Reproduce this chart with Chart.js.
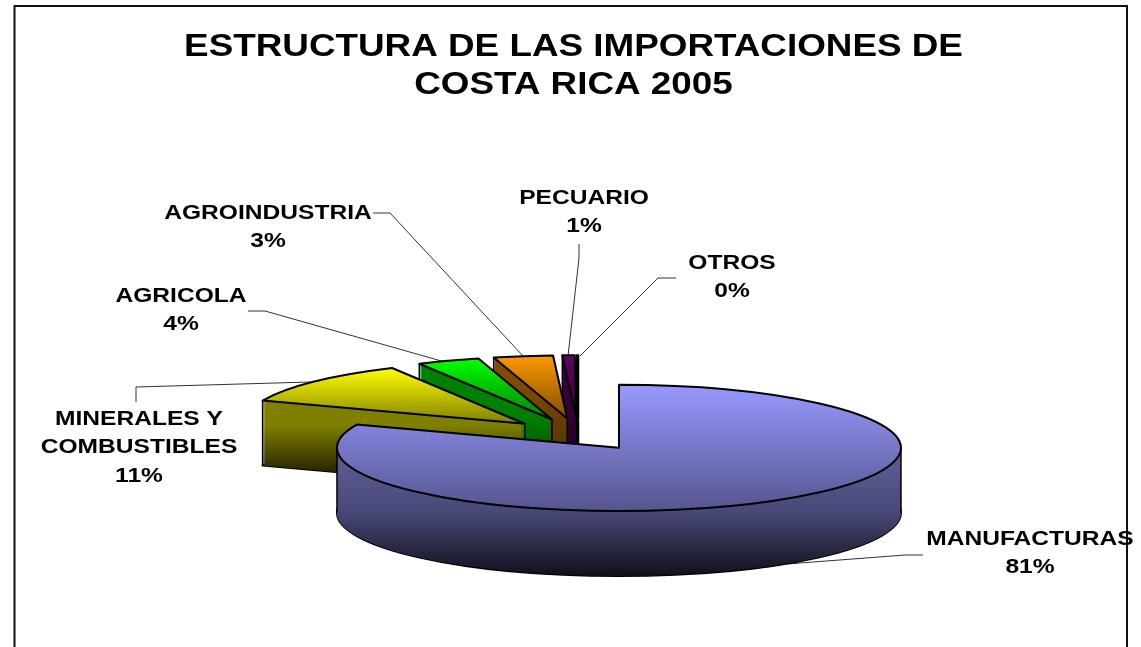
<!DOCTYPE html>
<html><head><meta charset="utf-8">
<style>html,body{margin:0;padding:0;background:#fff}canvas{display:block}</style>
<script src="https://cdn.jsdelivr.net/npm/chart.js@4"></script>
</head><body><canvas id="c" width="1141" height="647"></canvas>
<script>
const titleLines = ['ESTRUCTURA DE LAS IMPORTACIONES DE', 'COSTA RICA 2005'];
const categories = ['MANUFACTURAS', ['MINERALES Y', 'COMBUSTIBLES'], 'AGRICOLA', 'AGROINDUSTRIA', 'PECUARIO', 'OTROS'];
const shares = [81, 11.2, 3.6, 3.4, 0.7, 0.1];

// styling
const topColors = [['#9999ff', '#55558f'], ['#ffff00', '#808000'], ['#00ff00', '#008000'], ['#ff9900', '#804d00'], ['#660066', '#330033'], ['#660066', '#330033']];
const wallColors = [['#606098', '#484878', '#0f0f1a'], ['#808000', '#2a2a00'], ['#008000', '#006000'], ['#804d00', '#5a3600'], ['#3a003a', '#2a002a'], ['#200020', '#100010']];
const wallStops = [[448, 577], [425, 470], [418, 445], [380, 445], [380, 445], [380, 445]];
const labelAnchors = [[1030, 539], [139, 419], [181, 296], [268, 213], [584, 198], [732, 263]];
const leaders = [
  [[923, 555], [905, 555], [787, 564]],
  [[136, 402], [136, 387], [310, 382]],
  [[248, 311], [265, 311], [445, 362]],
  [[373, 213], [390, 213], [523, 356]],
  [[579, 244], [579, 258], [568, 356]],
  [[676, 278], [658, 278], [580, 356]]
];
const TILT = 0.224, DEPTH = 65, EXPLODE = 72, SHIFT_X = 5, STRETCH = 1.17, TITLE_STRETCH = 1.188;

function grad(ctx, y0, y1, cols) {
  const g = ctx.createLinearGradient(0, y0, 0, y1);
  cols.forEach((c, i) => g.addColorStop(i / (cols.length - 1), c));
  return g;
}
function geom(a) {
  const mid = (a.startAngle + a.endAngle) / 2;
  return {
    x: a.x + SHIFT_X + EXPLODE * Math.cos(mid),
    y: a.y + EXPLODE * TILT * Math.sin(mid),
    r: a.outerRadius, s: a.startAngle, e: a.endAngle
  };
}
function path(ctx, g, dy) {
  ctx.beginPath();
  ctx.moveTo(g.x, g.y + dy);
  ctx.ellipse(g.x, g.y + dy, g.r, g.r * TILT, 0, g.s, g.e);
  ctx.closePath();
}
function pt(g, t) { return [g.x + g.r * Math.cos(t), g.y + g.r * TILT * Math.sin(t)]; }

const pie3d = {
  id: 'pie3d',
  afterLayout(chart) {
    const t = chart.titleBlock;
    if (t && !t._wrapped) {
      const orig = t.draw;
      t.draw = function () {
        const ctx = t.ctx, cx = (t.left + t.right) / 2;
        ctx.save(); ctx.translate(cx, 0); ctx.scale(TITLE_STRETCH, 1); ctx.translate(-cx, 0);
        orig.call(t);
        ctx.restore();
      };
      t._wrapped = true;
    }
  },
  beforeDraw(chart) {
    const ctx = chart.ctx;
    ctx.save();
    ctx.fillStyle = '#fff'; ctx.fillRect(0, 0, chart.width, chart.height);
    ctx.strokeStyle = '#111'; ctx.lineWidth = 2;
    ctx.strokeRect(14.5, 6, 1112.5, 700);
    ctx.restore();
  },
  beforeDatasetDraw(chart, args) {
    const ctx = chart.ctx, arcs = args.meta.data;
    ctx.save();
    ctx.lineJoin = 'round';
    // leader lines below the pie
    ctx.strokeStyle = '#333'; ctx.lineWidth = 1;
    leaders.forEach(l => {
      ctx.beginPath();
      l.forEach((p, i) => i ? ctx.lineTo(p[0], p[1]) : ctx.moveTo(p[0], p[1]));
      ctx.stroke();
    });
    for (let i = arcs.length - 1; i >= 0; i--) {
      const g = geom(arcs[i]);
      ctx.strokeStyle = '#000';
      ctx.lineWidth = 2;
      path(ctx, g, DEPTH); ctx.stroke();
      ctx.fillStyle = grad(ctx, wallStops[i][0], wallStops[i][1], wallColors[i]);
      for (let d = DEPTH; d >= 0; d--) { path(ctx, g, d); ctx.fill(); }
      // vertical edges: silhouette extremes of the big slice, cut-face corners of the others
      const edges = i === 0
        ? [pt(g, 0), pt(g, Math.PI)]
        : [pt(g, g.s), [g.x, g.y]];
      ctx.lineWidth = 1.5;
      edges.forEach(p => {
        ctx.beginPath(); ctx.moveTo(p[0], p[1]); ctx.lineTo(p[0], p[1] + DEPTH); ctx.stroke();
      });
      const p1 = g.y - g.r * TILT, p2 = (i === 0) ? g.y + g.r * TILT : g.y;
      ctx.fillStyle = grad(ctx, i === 0 ? p1 : Math.min(pt(g, g.s)[1], pt(g, g.e)[1]), p2, topColors[i]);
      path(ctx, g, 0); ctx.fill();
      ctx.lineWidth = 2; ctx.stroke();
    }
    ctx.restore();
    return false;
  },
  afterDraw(chart) {
    const ctx = chart.ctx;
    ctx.save();
    ctx.fillStyle = '#000';
    ctx.font = 'bold 21px "Liberation Sans", Arial, sans-serif';
    ctx.textAlign = 'center'; ctx.textBaseline = 'middle';
    categories.forEach((c, i) => {
      const lines = [].concat(c, Math.round(shares[i]) + '%');
      lines.forEach((s, j) => {
        ctx.save();
        ctx.translate(labelAnchors[i][0], labelAnchors[i][1] + j * 28.5);
        ctx.scale(STRETCH, 1);
        ctx.fillText(s, 0, 0);
        ctx.restore();
      });
    });
    ctx.restore();
  }
};

new Chart(document.getElementById('c'), {
  type: 'pie',
  plugins: [pie3d],
  data: {
    labels: categories,
    datasets: [{ data: shares, backgroundColor: topColors.map(c => c[0]), borderWidth: 0, clip: false }]
  },
  options: {
    responsive: false, animation: false, radius: 282,
    events: [],
    layout: { padding: { left: 6, right: 0, top: 0, bottom: 0 } },
    plugins: {
      legend: { display: false },
      tooltip: { enabled: false },
      title: {
        display: true, text: titleLines, color: '#000',
        font: { family: '"Liberation Sans", Arial, sans-serif', size: 31, weight: 'bold', lineHeight: 1.21 },
        padding: { top: 29, bottom: 118 }
      }
    }
  }
});
</script></body></html>
